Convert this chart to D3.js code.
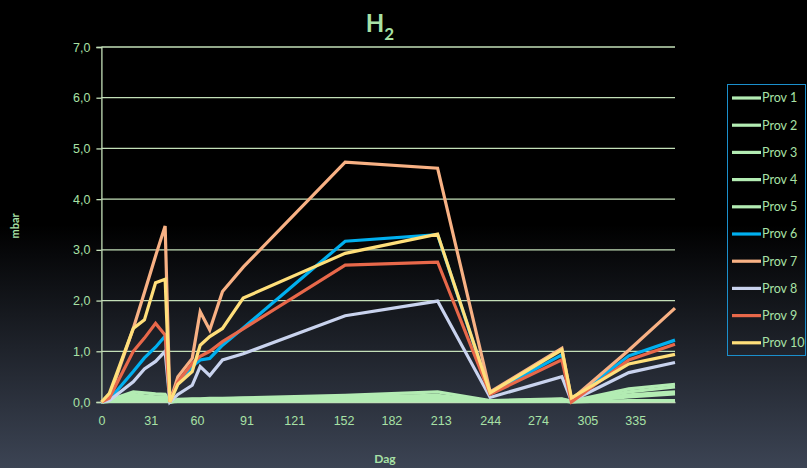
<!DOCTYPE html>
<html>
<head>
<meta charset="utf-8">
<script src="https://cdn.jsdelivr.net/npm/d3@7"></script>
<style>
  html, body { margin: 0; padding: 0; background: #000; }
  svg { display: block; font-family: Lato, "Open Sans", sans-serif; }
</style>
</head>
<body>
<svg id="chart" width="807" height="468"></svg>
<script>
// sampling days
const days = [0, 5, 20, 27, 34, 40, 43, 48, 57, 62, 68, 76, 89, 153, 211, 244, 289, 295, 331, 360];
const xTicks = [0, 31, 60, 91, 121, 152, 182, 213, 244, 274, 305, 335];
const yTicks = [0, 1, 2, 3, 4, 5, 6, 7];

const seriesNames = ["Prov 1", "Prov 2", "Prov 3", "Prov 4", "Prov 5", "Prov 6", "Prov 7", "Prov 8", "Prov 9", "Prov 10"];
const seriesColors = ["#b3ecb3", "#b3ecb3", "#b3ecb3", "#b3ecb3", "#b3ecb3", "#00b0f0", "#f8b184", "#c9d3ee", "#e8684a", "#ffdf7a"];

const prov1  = [0, 0.04, 0.20, 0.18, 0.16, 0.15, 0, 0.05, 0.06, 0.06, 0.07, 0.07, 0.08, 0.13, 0.20, 0.03, 0.06, 0.02, 0.26, 0.35];
const prov2  = [0, 0.03, 0.15, 0.12, 0.10, 0.10, 0, 0.04, 0.05, 0.05, 0.06, 0.06, 0.07, 0.10, 0.13, 0.02, 0.05, 0.01, 0.20, 0.30];
const prov3  = [0, 0.02, 0.10, 0.08, 0.07, 0.07, 0, 0.03, 0.04, 0.04, 0.04, 0.05, 0.05, 0.08, 0.10, 0.02, 0.04, 0.01, 0.14, 0.20];
const prov4  = [0, 0.01, 0.06, 0.05, 0.05, 0.05, 0, 0.02, 0.03, 0.03, 0.03, 0.03, 0.04, 0.06, 0.07, 0.01, 0.03, 0.00, 0.10, 0.16];
const prov5  = [0, 0.01, 0.02, 0.02, 0.02, 0.02, 0, 0.01, 0.01, 0.01, 0.01, 0.01, 0.02, 0.02, 0.03, 0.01, 0.02, 0.00, 0.03, 0.03];
const prov6  = [0, 0.05, 0.60, 0.87, 1.08, 1.30, 0, 0.37, 0.70, 0.83, 0.86, 1.12, 1.46, 3.17, 3.30, 0.17, 0.93, 0.05, 0.91, 1.22];
const prov7  = [0, 0.10, 1.45, 2.16, 2.88, 3.47, 0, 0.50, 0.86, 1.78, 1.42, 2.18, 2.66, 4.73, 4.61, 0.20, 1.06, 0.05, 1.02, 1.85];
const prov8  = [0, 0.03, 0.40, 0.65, 0.80, 1.00, 0, 0.15, 0.33, 0.70, 0.52, 0.83, 0.95, 1.70, 1.99, 0.09, 0.50, 0.02, 0.58, 0.78];
const prov9  = [0, 0.08, 1.00, 1.26, 1.55, 1.32, 0, 0.40, 0.76, 0.90, 1.00, 1.19, 1.44, 2.70, 2.76, 0.15, 0.83, 0.00, 0.83, 1.14];
const prov10 = [0, 0.17, 1.45, 1.62, 2.35, 2.42, 0, 0.35, 0.60, 1.12, 1.29, 1.45, 2.05, 2.93, 3.31, 0.18, 1.03, 0.08, 0.75, 0.94];

const allSeries = [prov1, prov2, prov3, prov4, prov5, prov6, prov7, prov8, prov9, prov10];

const textColor = "#a8e2a6";
const gridColor = "#c3dfb8";

const svg = d3.select("#chart");

// background gradient
const defs = svg.append("defs");
const grad = defs.append("linearGradient")
    .attr("id", "bg").attr("x1", 0).attr("y1", 0).attr("x2", 0).attr("y2", 1);
grad.append("stop").attr("offset", "0%").attr("stop-color", "#000000");
grad.append("stop").attr("offset", "48%").attr("stop-color", "#000000");
grad.append("stop").attr("offset", "100%").attr("stop-color", "#3c4454");
svg.append("rect").attr("width", 807).attr("height", 468).attr("fill", "url(#bg)");

const x = d3.scaleLinear().domain([0, 360]).range([101.4, 675]);
const y = d3.scaleLinear().domain([0, 7]).range([402, 47]);

// gridlines
svg.append("g")
    .selectAll("line")
    .data(yTicks.filter(d => d > 0))
    .join("line")
    .attr("x1", x(0)).attr("x2", x(360))
    .attr("y1", d => y(d)).attr("y2", d => y(d))
    .attr("stroke", gridColor)
    .attr("stroke-width", 1.3);

// y axis
const yAxis = svg.append("g")
    .attr("transform", `translate(${x(0)},0)`)
    .call(d3.axisLeft(y).tickValues(yTicks).tickSize(5).tickPadding(6)
        .tickFormat(d => d3.format(".1f")(d).replace(".", ",")));
yAxis.select(".domain").attr("stroke", gridColor).attr("stroke-width", 1.3);
yAxis.selectAll(".tick line").attr("stroke", gridColor).attr("stroke-width", 1.3);
yAxis.selectAll("text").attr("fill", textColor).attr("font-size", 12.5);

// x axis
const xAxis = svg.append("g")
    .attr("transform", `translate(0,${y(0)})`)
    .call(d3.axisBottom(x).tickValues(xTicks).tickSize(0).tickPadding(14));
xAxis.select(".domain").attr("stroke", gridColor).attr("stroke-width", 1.3);
xAxis.selectAll("text").attr("fill", textColor).attr("font-size", 12.5);

// lines
const line = d3.line()
    .x((d, i) => x(days[i]))
    .y(d => y(d));

svg.append("g")
    .selectAll("path")
    .data(allSeries)
    .join("path")
    .attr("d", d => line(d))
    .attr("fill", "none")
    .attr("stroke", (d, i) => seriesColors[i])
    .attr("stroke-width", 3.2)
    .attr("stroke-linejoin", "miter");

// title
const title = svg.append("text")
    .attr("x", 380).attr("y", 32)
    .attr("text-anchor", "middle")
    .attr("fill", textColor)
    .attr("font-size", 24)
    .attr("font-weight", "bold");
title.append("tspan").text("H");
title.append("tspan").attr("dy", 8).attr("font-size", 17).text("2");

// axis titles
svg.append("text")
    .attr("transform", "translate(19,226) rotate(-90)")
    .attr("text-anchor", "middle")
    .attr("fill", textColor)
    .attr("font-size", 11)
    .attr("font-weight", "bold")
    .text("mbar");

svg.append("text")
    .attr("x", 385).attr("y", 463)
    .attr("text-anchor", "middle")
    .attr("fill", textColor)
    .attr("font-size", 12)
    .attr("font-weight", "bold")
    .text("Dag");

// legend
const legend = svg.append("g");
legend.append("rect")
    .attr("x", 727.5).attr("y", 84.5)
    .attr("width", 78).attr("height", 271)
    .attr("fill", "none")
    .attr("stroke", "#1b8fcc")
    .attr("stroke-width", 1);

const items = legend.selectAll("g.item")
    .data(seriesNames)
    .join("g")
    .attr("class", "item")
    .attr("transform", (d, i) => `translate(0,${98 + i * 27.2})`);

items.append("line")
    .attr("x1", 732).attr("x2", 761)
    .attr("stroke", (d, i) => seriesColors[i])
    .attr("stroke-width", 3.2);

items.append("text")
    .attr("x", 762).attr("dy", "0.35em")
    .attr("fill", textColor)
    .attr("font-size", 12.5)
    .text(d => d);
</script>
</body>
</html>
